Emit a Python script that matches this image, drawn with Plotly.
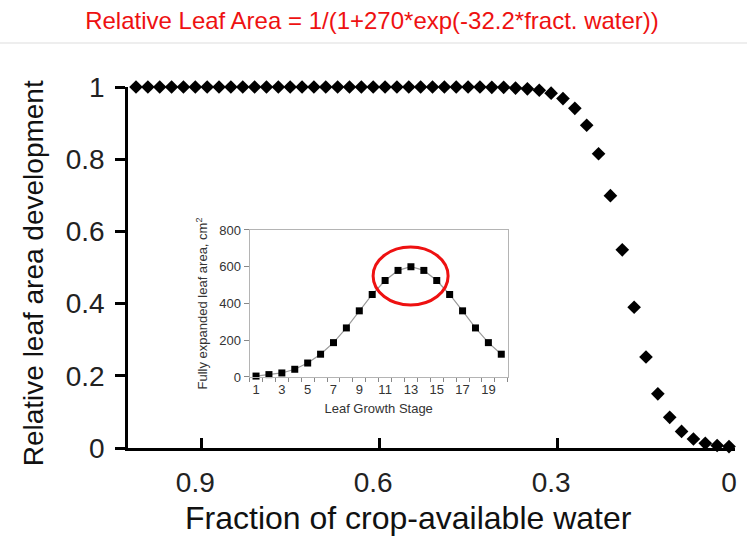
import plotly.graph_objects as go

# ---- main series: relative leaf area vs fraction of crop-available water ----
water_fraction = [1.00, 0.98, 0.96, 0.94, 0.92, 0.90, 0.88, 0.86, 0.84, 0.82,
                  0.80, 0.78, 0.76, 0.74, 0.72, 0.70, 0.68, 0.66, 0.64, 0.62,
                  0.60, 0.58, 0.56, 0.54, 0.52, 0.50, 0.48, 0.46, 0.44, 0.42,
                  0.40, 0.38, 0.36, 0.34, 0.32, 0.30, 0.28, 0.26, 0.24, 0.22,
                  0.20, 0.18, 0.16, 0.14, 0.12, 0.10, 0.08, 0.06, 0.04, 0.02, 0.00]
relative_leaf_area = [1.000, 1.000, 1.000, 1.000, 1.000, 1.000, 1.000, 1.000, 1.000, 1.000,
                      1.000, 1.000, 1.000, 1.000, 1.000, 1.000, 1.000, 1.000, 1.000, 1.000,
                      1.000, 1.000, 1.000, 1.000, 1.000, 1.000, 1.000, 1.000, 1.000, 1.000,
                      0.999, 0.999, 0.997, 0.995, 0.991, 0.983, 0.968, 0.941, 0.894, 0.815,
                      0.699, 0.549, 0.390, 0.252, 0.150, 0.085, 0.046, 0.025, 0.013, 0.007, 0.004]
main_tick_vals = [0.9, 0.6, 0.3, 0.0]
main_tick_text = ["0.9", "0.6", "0.3", "0"]
main_y_ticks = [0, 0.2, 0.4, 0.6, 0.8, 1]
main_y_text = ["0", "0.2", "0.4", "0.6", "0.8", "1"]

# ---- inset series: fully expanded leaf area by leaf growth stage ----
leaf_stage = [1, 2, 3, 4, 5, 6, 7, 8, 9, 10, 11, 12, 13, 14, 15, 16, 17, 18, 19, 20]
leaf_area_cm2 = [5, 13, 22, 42, 76, 124, 187, 267, 360, 449,
                 525, 580, 600, 580, 525, 449, 360, 267, 187, 124]
inset_x_ticks = [1, 3, 5, 7, 9, 11, 13, 15, 17, 19]
inset_y_ticks = [0, 200, 400, 600, 800]

FONT = "Arial, Liberation Sans, sans-serif"

fig = go.Figure()

fig.add_trace(go.Scatter(
    x=water_fraction, y=relative_leaf_area, mode="markers",
    marker=dict(symbol="diamond", size=10.5, color="black", line=dict(width=0)),
    cliponaxis=False, showlegend=False, xaxis="x", yaxis="y"))

fig.add_trace(go.Scatter(
    x=leaf_stage, y=leaf_area_cm2, mode="lines+markers",
    line=dict(color="#9a9a9a", width=1.2),
    marker=dict(symbol="square", size=7, color="black", line=dict(width=0)),
    cliponaxis=False, showlegend=False, xaxis="x2", yaxis="y2"))

fig.update_layout(
    width=747, height=537,
    margin=dict(l=128, r=10, t=87, b=89),
    paper_bgcolor="white", plot_bgcolor="rgba(0,0,0,0)",
    font=dict(family=FONT, color="#222"),
    title=dict(text="Relative Leaf Area = 1/(1+270*exp(-32.2*fract. water))",
               font=dict(family=FONT, size=24, color="#ee1111"),
               x=0.498, xanchor="center", y=1 - 21 / 537, yanchor="middle",
               xref="container", yref="container"),
    xaxis=dict(domain=[0, 1], range=[1.0135, -0.0101], tickvals=main_tick_vals,
               ticktext=main_tick_text, ticks="inside", ticklen=0,
               tickfont=dict(size=28, color="#222"), ticklabelstandoff=8,
               minor=dict(tickvals=[0.89, 0.59, 0.29, -0.0099], ticks="inside",
                          ticklen=10, tickwidth=2.5, tickcolor="black"),
               showline=True, linecolor="black", linewidth=2.5,
               showgrid=False, zeroline=False, anchor="y"),
    yaxis=dict(domain=[0, 1], range=[0, 1], tickvals=main_y_ticks, ticktext=main_y_text,
               ticks="outside", ticklen=10, tickwidth=2.5, tickcolor="black",
               tickfont=dict(size=28, color="#222"), ticklabelstandoff=5,
               showline=True, linecolor="black", linewidth=2.5,
               showgrid=False, zeroline=False, anchor="x"),
    xaxis2=dict(domain=[0.2003, 0.6256], range=[0.5, 20.5], anchor="y2",
                tickvals=inset_x_ticks, ticks="outside", ticklen=0,
                tickfont=dict(size=13, color="#333"),
                minor=dict(tick0=0.5, dtick=1, ticks="outside", ticklen=4,
                           tickwidth=1, tickcolor="#888"),
                showline=True, mirror=True, linecolor="#b4b4b4", linewidth=1,
                showgrid=False, zeroline=False,
                title=dict(text="Leaf Growth Stage", font=dict(size=13, color="#333"),
                           standoff=8)),
    yaxis2=dict(domain=[0.1967, 0.6039], range=[0, 800], anchor="x2",
                tickvals=inset_y_ticks, ticks="outside", ticklen=5, tickwidth=1,
                tickcolor="#888", tickfont=dict(size=13, color="#333"),
                showline=True, mirror=True, linecolor="#b4b4b4", linewidth=1,
                showgrid=False, zeroline=False,
                title=dict(text="Fully expanded leaf area, cm<sup>2</sup>",
                           font=dict(size=13, color="#333"), standoff=8)),
)

# red ellipse around the inset peak
fig.add_shape(type="circle", xref="x2", yref="y2", x0=10.07, x1=15.88, y0=392, y1=707,
              line=dict(color="#ee1111", width=3))

# faint rule under the title
fig.add_shape(type="line", xref="paper", yref="paper", x0=-0.22, x1=1.02,
              y0=(448 - 43) / 361, y1=(448 - 43) / 361,
              line=dict(color="#e8e8e8", width=1.5))

# axis titles of the main chart
fig.add_annotation(text="Relative leaf area development", textangle=-90,
                   xref="paper", yref="paper", x=(33 - 128) / 609, y=(448 - 273) / 361,
                   xanchor="center", yanchor="middle", showarrow=False,
                   font=dict(family=FONT, size=28, color="#111"))
fig.add_annotation(text="Fraction of crop-available water",
                   xref="paper", yref="paper", x=(409 - 128) / 609, y=(448 - 518) / 361,
                   xanchor="center", yanchor="middle", showarrow=False,
                   font=dict(family=FONT, size=32, color="#111"))

fig.write_html("out.html")
